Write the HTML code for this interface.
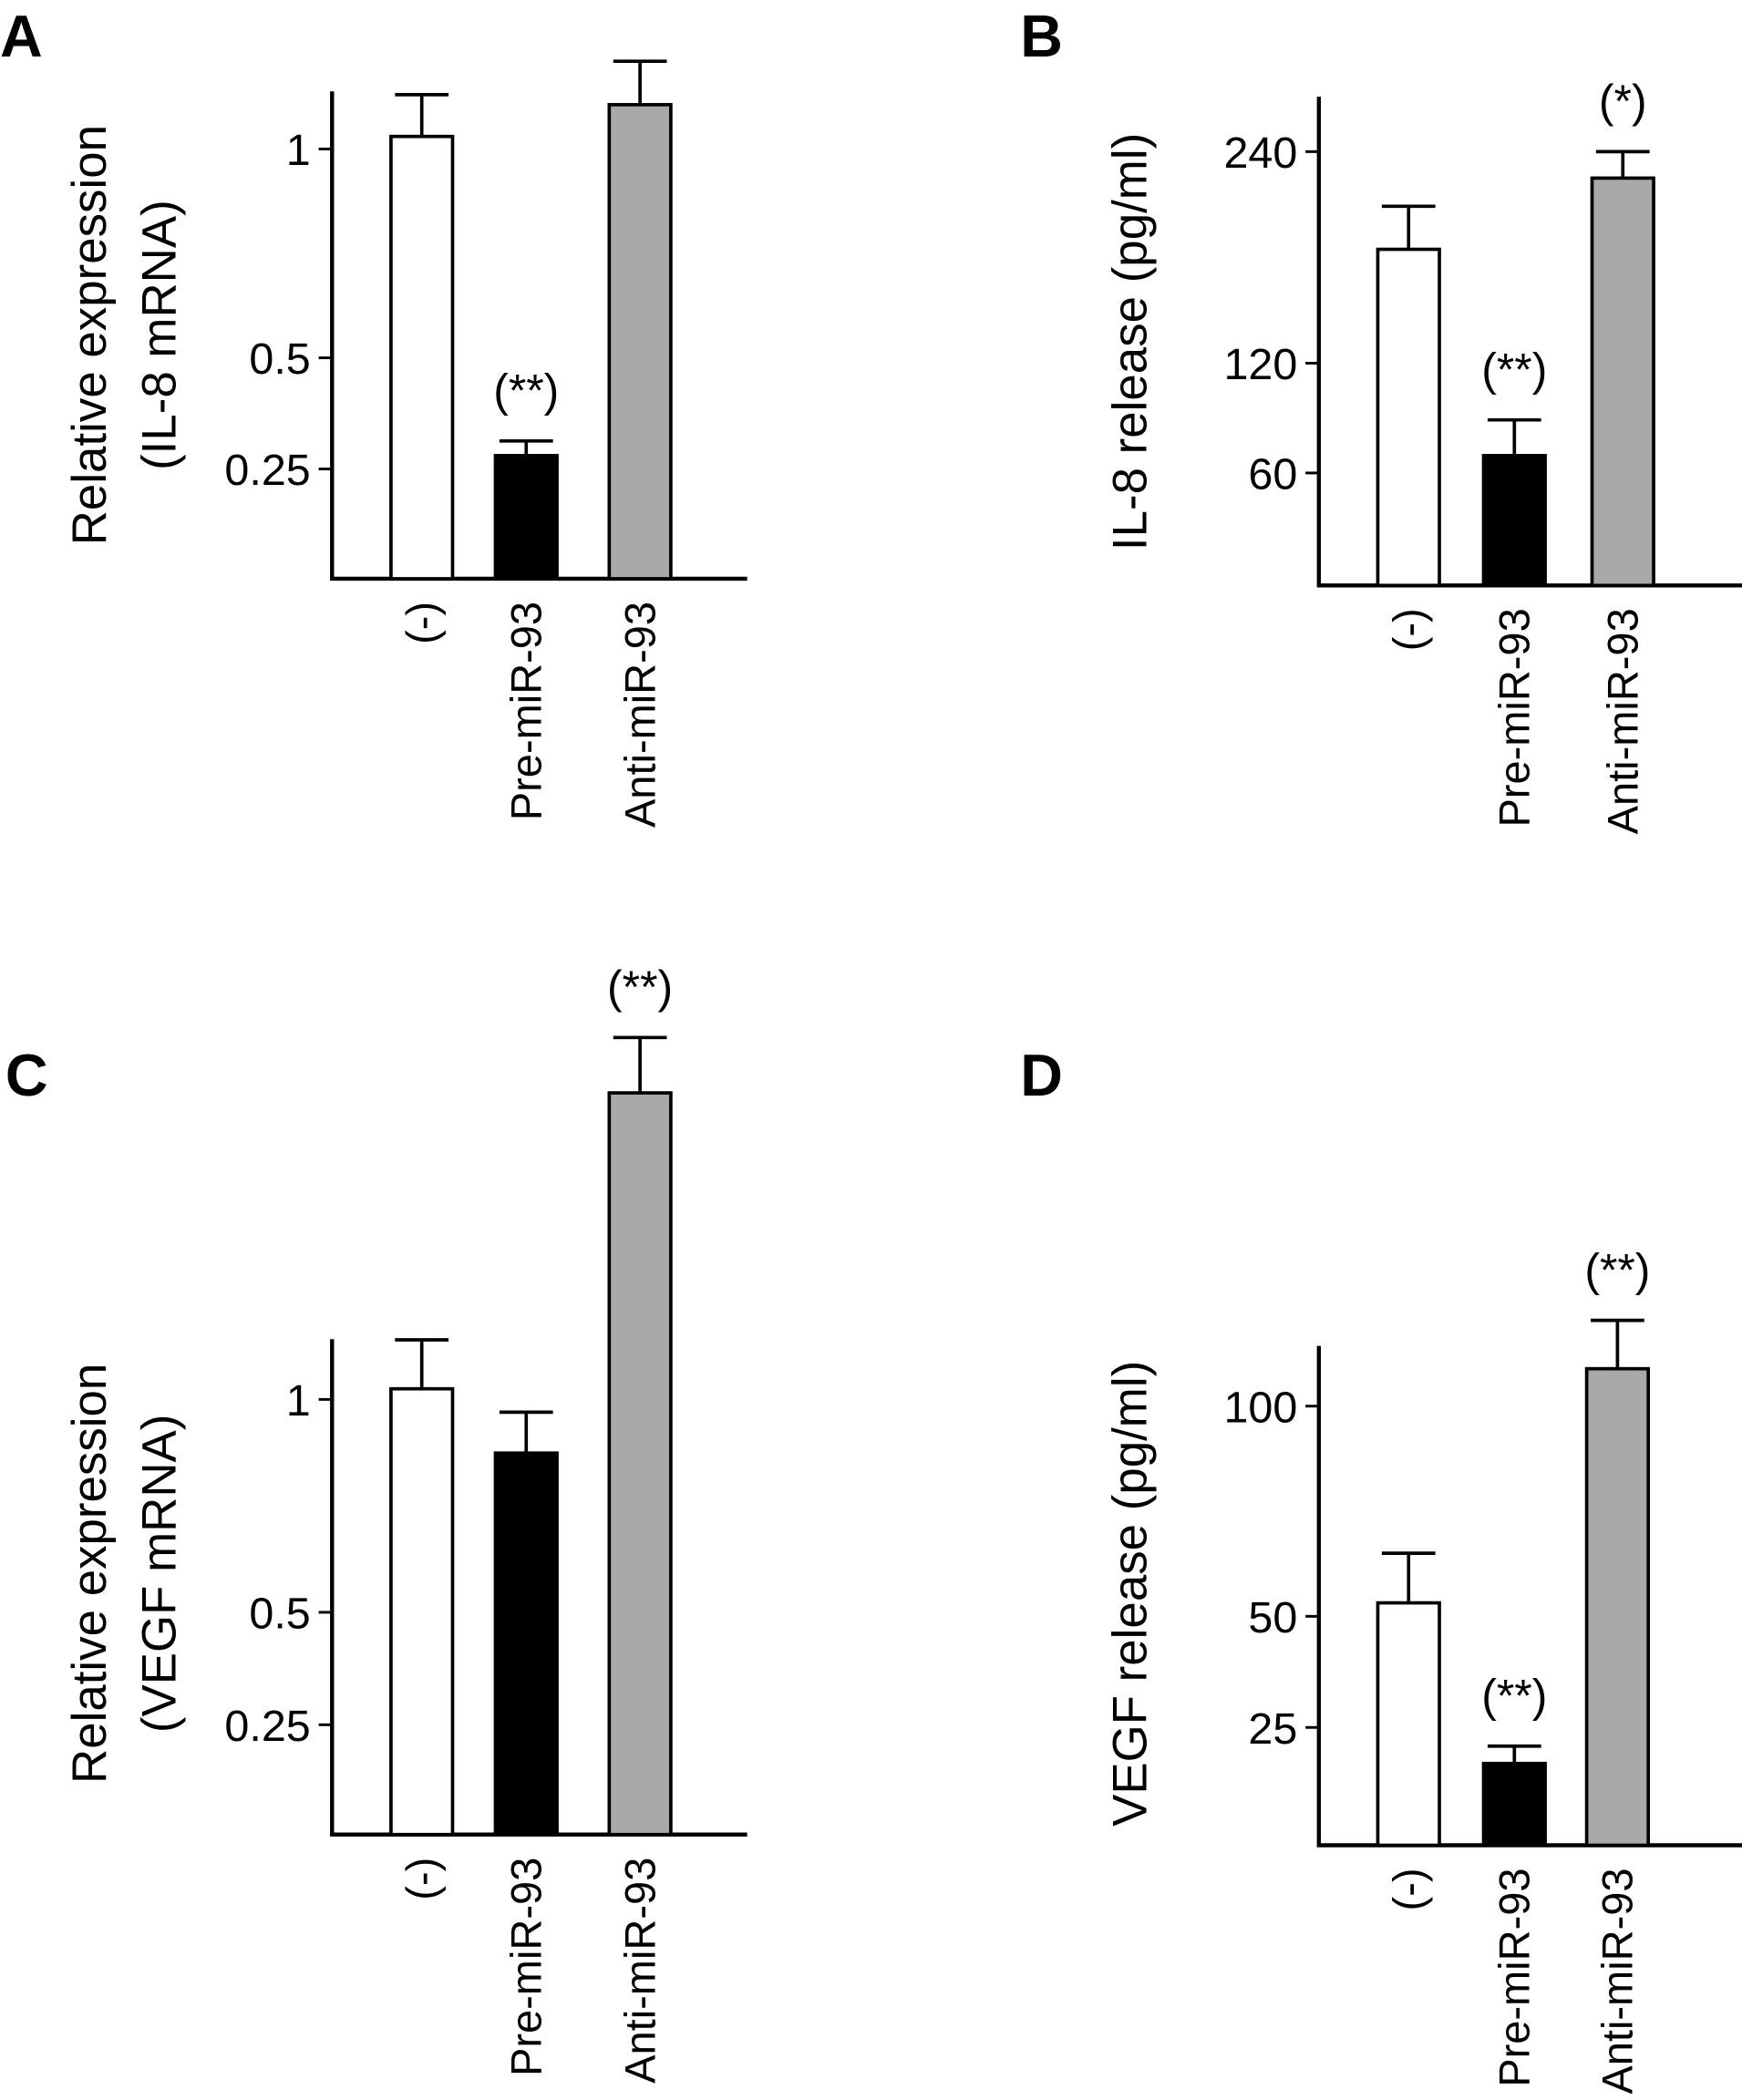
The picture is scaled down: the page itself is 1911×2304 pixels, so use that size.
<!DOCTYPE html>
<html><head><meta charset="utf-8"><style>
html,body{margin:0;padding:0;background:#fff}
svg{display:block}
text{font-family:"Liberation Sans",Arial,sans-serif;fill:#000}
</style></head><body>
<svg id="fig" width="1911" height="2304" viewBox="0 0 1301 1568" xmlns="http://www.w3.org/2000/svg"></svg>
<script>
const categories = ["(-)", "Pre-miR-93", "Anti-miR-93"];
const fills = ["#ffffff", "#000000", "#a9a9a9"];
// Panel A
const aTicks = [0.25, 0.5, 1];
const aTickLabels = ["0.25", "0.5", "1"];
const aValues = [1.03, 0.28, 1.106];
const aErrors = [1.13, 0.313, 1.21];
const aSig = ["", "(**)", ""];
// Panel B
const bTicks = [60, 120, 240];
const bTickLabels = ["60", "120", "240"];
const bValues = [184.6, 69.5, 225];
const bErrors = [209, 89, 240];
const bSig = ["", "(**)", "(*)"];
// Panel C
const cTicks = [0.25, 0.5, 1];
const cTickLabels = ["0.25", "0.5", "1"];
const cValues = [1.025, 0.874, 1.72];
const cErrors = [1.14, 0.97, 1.85];
const cSig = ["", "", "(**)"];
// Panel D
const dTicks = [25, 50, 100];
const dTickLabels = ["25", "50", "100"];
const dValues = [53.2, 16.9, 108.9];
const dErrors = [65, 20.8, 120.4];
const dSig = ["", "(**)", "(**)"];

const NS = "http://www.w3.org/2000/svg";
const svg = document.getElementById("fig");
function mk(tag, attrs, parent, txt){
  const e = document.createElementNS(NS, tag);
  for (const k in attrs) e.setAttribute(k, attrs[k]);
  if (txt !== undefined) e.textContent = txt;
  (parent||svg).appendChild(e);
  return e;
}
function makeScale(ticks, tickPx){
  return function(v){
    let i = 0;
    if (v >= ticks[ticks.length-1]) i = ticks.length-2;
    else { while (i < ticks.length-2 && v > ticks[i+1]) i++; }
    const t = (v - ticks[i])/(ticks[i+1]-ticks[i]);
    return tickPx[i] + t*(tickPx[i+1]-tickPx[i]);
  };
}
function panel(p){
  const g = mk("g", {});
  
  
  const y = makeScale(p.ticks, p.tickPx);
  const L = mk("text", {x:p.letterX, y:p.letterY, "font-size":44, "font-weight":"bold"}, g, p.letter);
  
  
  const ax = mk("path", {d:`M${p.ax} ${p.top} V${p.base} H${p.xEnd}`, stroke:"#000","stroke-width":3, fill:"none"}, g);
  
  
  p.ticks.forEach((t,i)=>{
    const ty = y(t);
    const tk = mk("line", {x1:p.ax-10, x2:p.ax, y1:ty, y2:ty, stroke:"#000","stroke-width":2}, g);
    
    
    const tl = mk("text", {x:p.ax-16, y:ty+12, "font-size":33, "text-anchor":"end"}, g, p.tickLabels[i]);
    
    
  });
  p.ytitle.forEach((s,i)=>{
    const xx = p.ytitleX[i];
    const t = mk("text", {x:xx, y:p.ytitleY, "font-size":36, "text-anchor":"middle", transform:`rotate(-90 ${xx} ${p.ytitleY})`}, g, s);
    
    
  });
  categories.forEach((c,i)=>{
    const cx = p.cx[i], w = 46;
    const top = y(p.values[i]);
    const eTop = y(p.errors[i]);
    const el = mk("path", {d:`M${cx} ${top} V${eTop} M${cx-20} ${eTop} H${cx+20}`, stroke:"#000","stroke-width":2.5, fill:"none"}, g);
    
    
    const r = mk("rect", {x:cx-w/2, y:top, width:w, height:p.base-top, fill:fills[i], stroke:"#000","stroke-width":2.5}, g);
    
    
    const ly = p.base + 17;
    const tl = mk("text", {x:cx+11, y:ly, "font-size":32, "text-anchor":"end", transform:`rotate(-90 ${cx+11} ${ly})`}, g, c);
    
    
    if (p.sig[i]) {
      const s = mk("text", {x:cx, y:eTop-26, "font-size":34, "text-anchor":"middle"}, g, p.sig[i]);
      
      
    }
  });
}
panel({id:"a", letter:"A", letterX:0, letterY:42, ticks:aTicks, tickLabels:aTickLabels, tickPx:[350,267,111],
  values:aValues, errors:aErrors, sig:aSig, ax:248, top:68, base:432, xEnd:558, cx:[315,393,478],
  ytitle:["Relative expression","(IL-8 mRNA)"], ytitleX:[79,131], ytitleY:250});
panel({id:"b", letter:"B", letterX:762, letterY:42, ticks:bTicks, tickLabels:bTickLabels, tickPx:[353,271,113],
  values:bValues, errors:bErrors, sig:bSig, ax:985, top:72, base:437, xEnd:1301, cx:[1052,1131,1212],
  ytitle:["IL-8 release (pg/ml)"], ytitleX:[856], ytitleY:255});
panel({id:"c", letter:"C", letterX:4, letterY:818, ticks:cTicks, tickLabels:cTickLabels, tickPx:[1288,1204,1045],
  values:cValues, errors:cErrors, sig:cSig, ax:248, top:1000, base:1370, xEnd:558, cx:[315,393,478],
  ytitle:["Relative expression","(VEGF mRNA)"], ytitleX:[79,131], ytitleY:1175});
panel({id:"d", letter:"D", letterX:762, letterY:818, ticks:dTicks, tickLabels:dTickLabels, tickPx:[1290,1207,1050],
  values:dValues, errors:dErrors, sig:dSig, ax:985, top:1005, base:1378, xEnd:1301, cx:[1052,1131,1208],
  ytitle:["VEGF release (pg/ml)"], ytitleX:[856], ytitleY:1190});
</script>
</body></html>
